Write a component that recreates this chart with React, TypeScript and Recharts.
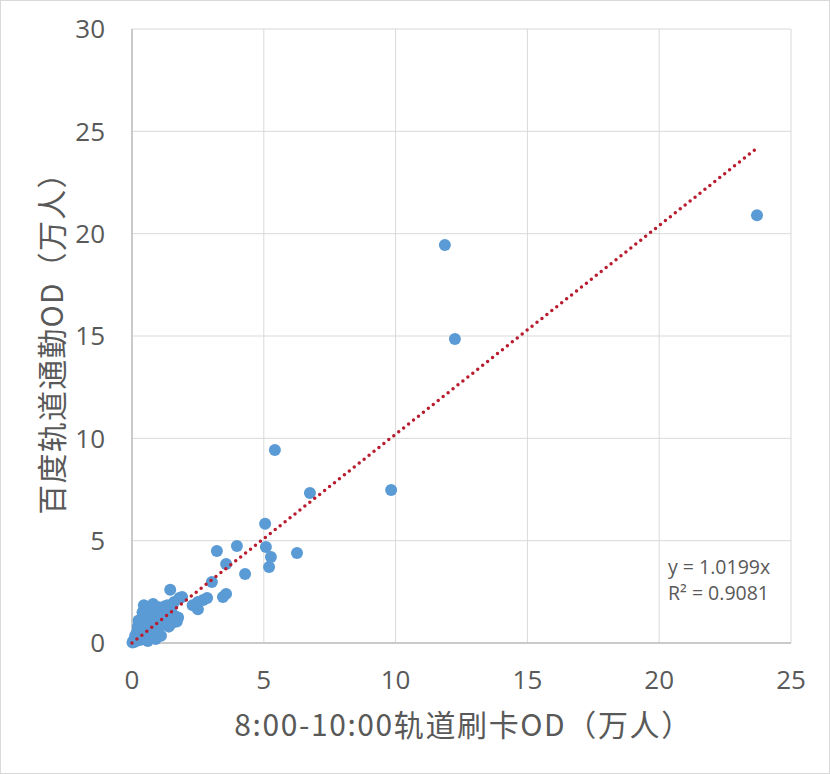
import { CartesianGrid, Scatter, ScatterChart, XAxis, YAxis } from "recharts"

// 8:00-10:00 rail card OD (x) vs Baidu rail commute OD (y), both in 万人
const odPoints: { x: number; y: number }[] = [
  { x: 0.02, y: 0.03 }, { x: 0.05, y: 0.1 }, { x: 0.08, y: 0.05 }, { x: 0.1, y: 0.2 },
  { x: 0.12, y: 0.35 }, { x: 0.15, y: 0.1 }, { x: 0.18, y: 0.5 }, { x: 0.2, y: 0.25 },
  { x: 0.22, y: 0.8 }, { x: 0.25, y: 1.1 }, { x: 0.28, y: 0.4 }, { x: 0.3, y: 0.15 },
  { x: 0.32, y: 0.6 }, { x: 0.35, y: 0.3 }, { x: 0.38, y: 0.9 }, { x: 0.4, y: 1.5 },
  { x: 0.42, y: 0.5 }, { x: 0.45, y: 1.85 }, { x: 0.48, y: 0.2 }, { x: 0.5, y: 0.7 },
  { x: 0.55, y: 1.2 }, { x: 0.58, y: 0.4 }, { x: 0.6, y: 1.75 }, { x: 0.6, y: 0.1 },
  { x: 0.62, y: 0.9 }, { x: 0.65, y: 0.55 }, { x: 0.7, y: 1.4 }, { x: 0.72, y: 0.3 },
  { x: 0.75, y: 1.0 }, { x: 0.8, y: 1.9 }, { x: 0.82, y: 0.6 }, { x: 0.85, y: 1.6 },
  { x: 0.9, y: 0.8 }, { x: 0.9, y: 0.2 }, { x: 0.95, y: 1.3 }, { x: 1.0, y: 0.5 },
  { x: 1.02, y: 1.75 }, { x: 1.05, y: 1.1 }, { x: 1.1, y: 0.35 }, { x: 1.15, y: 1.5 },
  { x: 1.2, y: 0.9 }, { x: 1.25, y: 1.8 }, { x: 1.3, y: 1.2 }, { x: 1.35, y: 1.85 },
  { x: 1.4, y: 0.8 }, { x: 1.45, y: 2.6 }, { x: 1.5, y: 1.5 }, { x: 1.55, y: 1.0 },
  { x: 1.6, y: 2.0 }, { x: 1.65, y: 1.3 }, { x: 1.7, y: 1.05 }, { x: 1.75, y: 1.25 },
  { x: 1.8, y: 2.2 }, { x: 1.9, y: 2.25 }, { x: 2.3, y: 1.85 }, { x: 2.5, y: 1.65 },
  { x: 2.5, y: 2.0 }, { x: 2.7, y: 2.1 }, { x: 2.85, y: 2.2 }, { x: 3.03, y: 2.98 },
  { x: 3.22, y: 4.49 }, { x: 3.45, y: 2.25 }, { x: 3.57, y: 2.4 }, { x: 3.57, y: 3.86 },
  { x: 3.98, y: 4.74 }, { x: 4.29, y: 3.37 }, { x: 5.05, y: 5.83 }, { x: 5.08, y: 4.69 },
  { x: 5.2, y: 3.71 }, { x: 5.27, y: 4.2 }, { x: 5.42, y: 9.43 }, { x: 6.26, y: 4.4 },
  { x: 6.75, y: 7.33 }, { x: 9.83, y: 7.47 }, { x: 11.87, y: 19.45 }, { x: 12.25, y: 14.85 },
  { x: 23.71, y: 20.9 },
]

const xTicks = [0, 5, 10, 15, 20, 25]
const yTicks = [0, 5, 10, 15, 20, 25, 30]

const slope = 1.0199
const rSquared = 0.9081

const xTitle = "8:00-10:00轨道刷卡OD（万人）"
const yTitle = "百度轨道通勤OD（万人）"

const maxX = Math.max(...odPoints.map((p) => p.x))
const trendLine = [
  { x: 0, y: 0 },
  { x: maxX, y: slope * maxX },
]

const textColor = "#595959"
const tickFont = { fontSize: 26, fill: textColor, fontFamily: "Open Sans" }
const titleFont = "Noto Sans CJK SC"

export default function App() {
  return (
    <div
      style={{
        position: "absolute",
        left: 0,
        top: 0,
        width: 830,
        height: 774,
        background: "#fff",
        border: "1px solid #d9d9d9",
        boxSizing: "border-box",
      }}
    >
      <div style={{ position: "absolute", left: -1, top: -1 }}>
        <ScatterChart
          width={830}
          height={774}
          margin={{ top: 29, right: 39, left: 0, bottom: 0 }}
        >
          <CartesianGrid stroke="#d9d9d9" strokeWidth={1} />
          <XAxis
            type="number"
            dataKey="x"
            domain={[0, 25]}
            ticks={xTicks}
            height={131}
            tickSize={0}
            tickMargin={28}
            tickLine={false}
            axisLine={{ stroke: "#bfbfbf", strokeWidth: 1.5 }}
            tick={tickFont}
            label={{
              content: (props: any) => {
                const vb = props.viewBox
                return (
                  <text
                    x={vb.x + vb.width / 2 + 2}
                    y={vb.y + 80}
                    textAnchor="middle"
                    dominantBaseline="central"
                    fontSize={30}
                    letterSpacing={1.6}
                    fontFamily={titleFont}
                    fill={textColor}
                  >
                    {xTitle}
                  </text>
                )
              },
            }}
          />
          <YAxis
            type="number"
            dataKey="y"
            domain={[0, 30]}
            ticks={yTicks}
            width={132}
            tickSize={0}
            tickMargin={27}
            tickLine={false}
            axisLine={{ stroke: "#bfbfbf", strokeWidth: 1.5 }}
            tick={tickFont}
            label={{
              content: (props: any) => {
                const vb = props.viewBox
                const cx = vb.x + 50
                const cy = vb.y + vb.height / 2
                return (
                  <text
                    x={cx}
                    y={cy}
                    transform={`rotate(-90 ${cx} ${cy})`}
                    textAnchor="middle"
                    dominantBaseline="central"
                    fontSize={30}
                    letterSpacing={1.2}
                    fontFamily={titleFont}
                    fill={textColor}
                  >
                    {yTitle}
                  </text>
                )
              },
            }}
          />
          <Scatter
            data={odPoints}
            fill="#5b9bd5"
            isAnimationActive={false}
            shape={(props: any) => (
              <circle cx={props.cx} cy={props.cy} r={6} fill="#5b9bd5" />
            )}
          />
          <Scatter
            data={trendLine}
            isAnimationActive={false}
            line={{
              stroke: "#b81c2e",
              strokeWidth: 3.5,
              strokeDasharray: "0 6.3",
              strokeLinecap: "round",
            }}
            shape={() => <g />}
          />
        </ScatterChart>
      </div>
      <div
        style={{
          position: "absolute",
          left: 667,
          top: 553,
          fontFamily: "Open Sans",
          fontSize: 19.5,
          lineHeight: "26px",
          color: textColor,
        }}
      >
        <div>y = {slope}x</div>
        <div>R² = {rSquared}</div>
      </div>
    </div>
  )
}
